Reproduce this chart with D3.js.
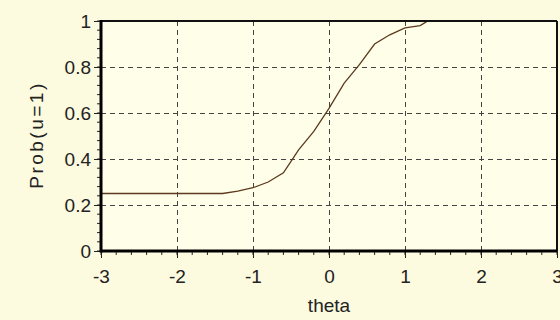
<!DOCTYPE html>
<html><head><meta charset="utf-8">
<script src="https://cdn.jsdelivr.net/npm/d3@7"></script>
<style>
html,body{margin:0;padding:0;background:#fcfadf;}
svg{display:block;}
</style></head>
<body>
<svg id="c" width="560" height="320"></svg>
<script>
const theta = [-3, -1.4, -1.2, -1.0, -0.8, -0.6, -0.5, -0.4, -0.2, 0, 0.2, 0.4, 0.6, 0.8, 1.0, 1.2, 1.3, 3];
const prob  = [0.25, 0.25, 0.26, 0.275, 0.30, 0.34, 0.39, 0.44, 0.52, 0.62, 0.73, 0.81, 0.90, 0.94, 0.97, 0.98, 1.0, 1.0];
const xTicks = [-3, -2, -1, 0, 1, 2, 3];
const xTickLabels = ["-3", "-2", "-1", "0", "1", "2", "3"];
const yTicks = [0, 0.2, 0.4, 0.6, 0.8, 1];
const yTickLabels = ["0", "0.2", "0.4", "0.6", "0.8", "1"];
const xLabel = "theta";
const yLabel = "Prob(u=1)";

const svg = d3.select("#c");
const m = {l:101, r:557, t:21, b:251};
const x = d3.scaleLinear().domain([-3,3]).range([m.l, m.r]);
const y = d3.scaleLinear().domain([0,1]).range([m.b, m.t]);
const font = "'Liberation Sans', Arial, sans-serif";
const fs = 19;

svg.append("rect").attr("x",0).attr("y",0).attr("width",560).attr("height",320).attr("fill","#fcfadf");
svg.append("rect").attr("x",m.l).attr("y",m.t).attr("width",m.r-m.l).attr("height",m.b-m.t).attr("fill","#fffee9");

// grid
const g = svg.append("g");
g.selectAll(".gx").data(xTicks.slice(1,-1)).join("line")
  .attr("x1",d=>x(d)+0.5).attr("x2",d=>x(d)+0.5).attr("y1",m.t).attr("y2",m.b)
  .attr("stroke","#444").attr("stroke-width",1).attr("stroke-dasharray","5,4");
g.selectAll(".gy").data(yTicks.slice(1,-1)).join("line")
  .attr("y1",d=>y(d)+0.5).attr("y2",d=>y(d)+0.5).attr("x1",m.l).attr("x2",m.r)
  .attr("stroke","#444").attr("stroke-width",1).attr("stroke-dasharray","5,4");

// curve
svg.append("path").datum(theta.map((t,i)=>[t,prob[i]]))
  .attr("d", d3.line().x(d=>x(d[0])).y(d=>y(d[1])))
  .attr("fill","none").attr("stroke","#5b3a1e").attr("stroke-width",1.3);

// top & right border
svg.append("line").attr("x1",m.l).attr("x2",m.r).attr("y1",m.t).attr("y2",m.t).attr("stroke","#111").attr("stroke-width",2);
svg.append("line").attr("x1",m.r).attr("x2",m.r).attr("y1",m.t).attr("y2",m.b).attr("stroke","#111").attr("stroke-width",2);

// x axis
const xMinor = d3.range(-3, 3.001, 0.2);
svg.selectAll(".xmin").data(xMinor).join("line")
  .attr("x1",d=>x(d)).attr("x2",d=>x(d)).attr("y1",m.b).attr("y2",m.b+4)
  .attr("stroke","#222").attr("stroke-width",1);
const xAxis = d3.axisBottom(x).tickValues(xTicks).tickSize(7).tickPadding(12).tickFormat((d,i)=>xTickLabels[i]);
const xa = svg.append("g").attr("transform",`translate(0,${m.b})`).call(xAxis);
xa.select(".domain").remove();
xa.selectAll("line").attr("stroke","#222");
xa.selectAll("text").attr("font-family",font).attr("font-size",fs).attr("fill","#222");

// y axis
const yMinor = d3.range(0, 1.001, 0.04);
svg.selectAll(".ymin").data(yMinor).join("line")
  .attr("x1",m.l-4).attr("x2",m.l).attr("y1",d=>y(d)).attr("y2",d=>y(d))
  .attr("stroke","#222").attr("stroke-width",1);
const yAxis = d3.axisLeft(y).tickValues(yTicks).tickSize(7).tickPadding(3).tickFormat((d,i)=>yTickLabels[i]);
const ya = svg.append("g").attr("transform",`translate(${m.l},0)`).call(yAxis);
ya.select(".domain").remove();
ya.selectAll("line").attr("stroke","#222");
ya.selectAll("text").attr("font-family",font).attr("font-size",fs).attr("fill","#222");

// thick axis lines
svg.append("line").attr("x1",m.l).attr("x2",m.r).attr("y1",m.b).attr("y2",m.b).attr("stroke","#000").attr("stroke-width",3);
svg.append("line").attr("x1",m.l).attr("x2",m.l).attr("y1",m.t-1).attr("y2",m.b+1.5).attr("stroke","#000").attr("stroke-width",3);

// labels
svg.append("text").attr("x",329).attr("y",312).attr("text-anchor","middle")
  .attr("font-family",font).attr("font-size",fs).attr("fill","#222").text(xLabel);
svg.append("text").attr("transform",`translate(43,135) rotate(-90)`).attr("text-anchor","middle")
  .attr("font-family",font).attr("font-size",fs).attr("letter-spacing",2.5).attr("fill","#222").text(yLabel);
</script>
</body></html>
